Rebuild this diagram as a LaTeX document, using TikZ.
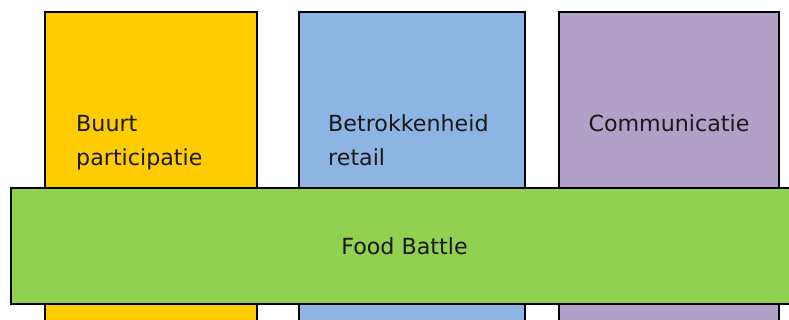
\documentclass[tikz,border=0pt]{standalone}
\usepackage{fontspec}
\setmainfont{DejaVu Sans}
\definecolor{colYellow}{HTML}{FFCC00}
\definecolor{colBlue}{HTML}{8EB4E3}
\definecolor{colPurple}{HTML}{B1A0C7}
\definecolor{colGreen}{HTML}{92D050}
\tikzset{
  pillar/.style={draw=black, line width=2pt, rectangle, inner sep=0pt, anchor=north west},
  label/.style={inner sep=0pt, font=\fontsize{22.2}{34}\selectfont, text=black!90, align=left}
}
\begin{document}
\begin{tikzpicture}[x=1pt, y=-1pt]
  \useasboundingbox (0,0) rectangle (789,320);
  \clip (0,0) rectangle (789,320);
  \fill[white] (0,0) rectangle (789,320);
  % three pillars
  \node[pillar, fill=colYellow, minimum width=212pt, minimum height=330pt] (buurt) at (44,11) {};
  \node[pillar, fill=colBlue, minimum width=226pt, minimum height=330pt] (retail) at (298,11) {};
  \node[pillar, fill=colPurple, minimum width=220pt, minimum height=330pt] (comm) at (558,11) {};
  % pillar labels (base anchor sits on the last line)
  \node[label, anchor=base west] (buurtTxt) at (76,166) {Buurt\\participatie};
  \node[label, anchor=base west] (retailTxt) at (328,166) {Betrokkenheid\\retail};
  \node[label, anchor=base] (commTxt) at (669,132) {Communicatie};
  % crossing bar
  \node[pillar, fill=colGreen, minimum width=790pt, minimum height=116pt] (bar) at (10,187) {};
  \node[label] (barTxt) at (404.5,246) {Food Battle};
\end{tikzpicture}
\end{document}
